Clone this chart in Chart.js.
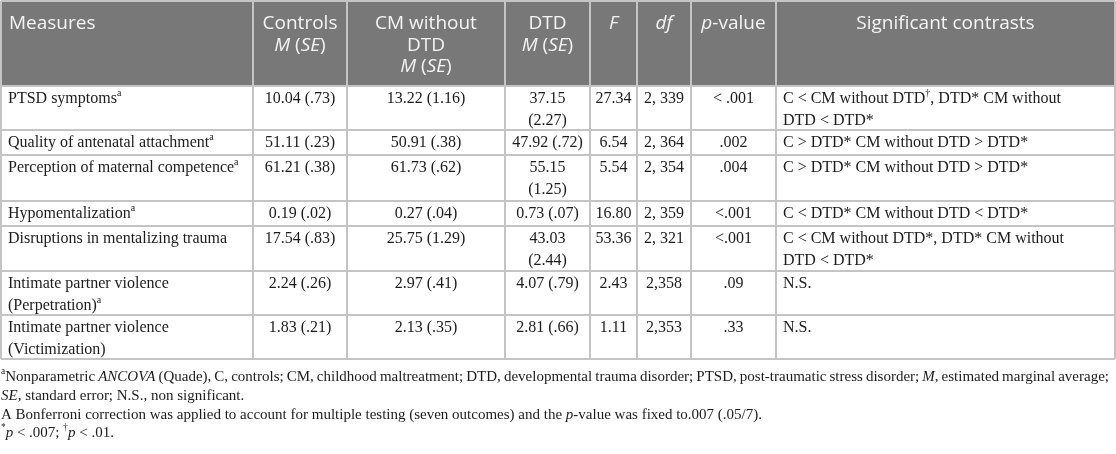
<!DOCTYPE html>
<html lang="en">

<head>
	<meta charset="UTF-8" />
	<meta name="viewport" content="width=device-width, initial-scale=1.0" />
	<title>Group comparisons table</title>
	<script src="https://cdn.jsdelivr.net/npm/chart.js@4.4.1/dist/chart.umd.min.js"></script>
	<style>
		html, body { margin: 0; padding: 0; background: #fff; }
		.container { position: relative; width: 1116px; height: 454px; }
	</style>
</head>

<body>
	<div class="container">
		<canvas id="myChart"></canvas>
	</div>

	<script>
		// markup: _text_ = italic, ^text^ = superscript, \n = line break
		const headers = ['Measures', 'Controls\n_M_ (_SE_)', 'CM without\nDTD\n_M_ (_SE_)', 'DTD\n_M_ (_SE_)', '_F_', '_df_', '_p_-value', 'Significant contrasts'];

		const measures = [
			'PTSD symptoms^a^',
			'Quality of antenatal attachment^a^',
			'Perception of maternal competence^a^',
			'Hypomentalization^a^',
			'Disruptions in mentalizing trauma',
			'Intimate partner violence\n(Perpetration)^a^',
			'Intimate partner violence\n(Victimization)'
		];
		const controls = ['10.04 (.73)', '51.11 (.23)', '61.21 (.38)', '0.19 (.02)', '17.54 (.83)', '2.24 (.26)', '1.83 (.21)'];
		const cmWithoutDtd = ['13.22 (1.16)', '50.91 (.38)', '61.73 (.62)', '0.27 (.04)', '25.75 (1.29)', '2.97 (.41)', '2.13 (.35)'];
		const dtd = ['37.15\n(2.27)', '47.92 (.72)', '55.15\n(1.25)', '0.73 (.07)', '43.03\n(2.44)', '4.07 (.79)', '2.81 (.66)'];
		const fValues = ['27.34', '6.54', '5.54', '16.80', '53.36', '2.43', '1.11'];
		const dfValues = ['2, 339', '2, 364', '2, 354', '2, 359', '2, 321', '2,358', '2,353'];
		const pValues = ['< .001', '.002', '.004', '<.001', '<.001', '.09', '.33'];
		const contrasts = [
			'C < CM without DTD^†^, DTD* CM without\nDTD < DTD*',
			'C > DTD* CM without DTD > DTD*',
			'C > DTD* CM without DTD > DTD*',
			'C < DTD* CM without DTD < DTD*',
			'C < CM without DTD*, DTD* CM without\nDTD < DTD*',
			'N.S.',
			'N.S.'
		];
		const notes = [
			'^a^Nonparametric _ANCOVA_ (Quade), C, controls; CM, childhood maltreatment; DTD, developmental trauma disorder; PTSD, post-traumatic stress disorder; _M_, estimated marginal average;',
			'_SE_, standard error; N.S., non significant.',
			'A Bonferroni correction was applied to account for multiple testing (seven outcomes) and the _p_-value was fixed to.007 (.05/7).',
			'^*^_p_ < .007; ^†^_p_ < .01.'
		];

		// layout (in canvas units, mapped through the chart scales)
		const W = 1116, H = 454;
		const colEdges = [1, 253, 347, 505, 590, 637, 691, 776, 1115];
		const colAlign = ['left', 'center', 'center', 'center', 'center', 'center', 'center', 'left'];
		const headerHeight = 86;
		const rowHeights = [44, 25, 46, 25, 45, 44, 44];
		const notesTop = 377, notesStep = 18.8;
		const justifyNotes = [true, false, false, false];

		const SERIF = '"Liberation Serif", "Times New Roman", serif';
		const SANS = '"Open Sans", "Noto Sans", sans-serif';

		function parse(text) {
			const segs = [];
			text.split(/(_[^_]+_|\^[^^]+\^)/).forEach(part => {
				if (!part) return;
				if (part[0] === '_' && part.length > 2) segs.push({ t: part.slice(1, -1), it: true });
				else if (part[0] === '^' && part.length > 2) segs.push({ t: part.slice(1, -1), sup: true });
				else segs.push({ t: part });
			});
			return segs;
		}

		function setFont(ctx, seg, size, family) {
			const s = seg.sup ? size * 0.62 : size;
			ctx.font = (seg.it ? 'italic ' : '') + s + 'px ' + family;
		}

		// draw one line of rich text, optionally justified to a width
		function drawLine(ctx, text, x, y, align, size, family, justifyWidth) {
			const tokens = [];
			parse(text).forEach(seg => {
				seg.t.split(/( )/).forEach(t => {
					if (t) tokens.push({ t, it: seg.it, sup: seg.sup });
				});
			});
			let width = 0;
			let spaces = 0;
			tokens.forEach(tok => {
				setFont(ctx, tok, size, family);
				tok.w = ctx.measureText(tok.t).width;
				width += tok.w;
				if (tok.t === ' ') spaces++;
			});
			let extra = 0;
			if (justifyWidth && spaces > 0) {
				extra = (justifyWidth - width) / spaces;
				width = justifyWidth;
			}
			let cx = x;
			if (align === 'center') cx = x - width / 2;
			else if (align === 'right') cx = x - width;
			ctx.textBaseline = 'middle';
			ctx.textAlign = 'left';
			tokens.forEach(tok => {
				setFont(ctx, tok, size, family);
				const dy = tok.sup ? -size * 0.36 : 0;
				ctx.fillText(tok.t, cx, y + dy);
				cx += tok.w + (tok.t === ' ' ? extra : 0);
			});
		}

		const tablePlugin = {
			id: 'tableCells',
			afterDraw(chart) {
				const ctx = chart.ctx;
				const xs = chart.scales.x;
				const ys = chart.scales.y;
				const px = v => xs.getPixelForValue(v);
				const py = v => ys.getPixelForValue(v);

				const columns = [measures, controls, cmWithoutDtd, dtd, fValues, dfValues, pValues, contrasts];
				const rowEdges = [1, headerHeight];
				rowHeights.forEach(h => rowEdges.push(rowEdges[rowEdges.length - 1] + h));
				const tableBottom = rowEdges[rowEdges.length - 1];

				ctx.save();
				// header background
				ctx.fillStyle = '#787878';
				ctx.fillRect(px(colEdges[0]), py(rowEdges[0]), px(colEdges[8]) - px(colEdges[0]), py(rowEdges[1]) - py(rowEdges[0]));

				// header text
				ctx.fillStyle = '#f4f4f4';
				headers.forEach((h, c) => {
					const align = c === 0 ? 'left' : 'center';
					const tx = align === 'left' ? px(colEdges[c] + 8) : px((colEdges[c] + colEdges[c + 1]) / 2);
					h.split('\n').forEach((ln, i) => {
						drawLine(ctx, ln, tx, py(rowEdges[0] + 23 + i * 21.5), align, 19, SANS);
					});
				});

				// body text
				ctx.fillStyle = '#1c1c1c';
				columns.forEach((col, c) => {
					col.forEach((val, r) => {
						const top = rowEdges[r + 1];
						const align = colAlign[c];
						const tx = align === 'left' ? px(colEdges[c] + 7) : px((colEdges[c] + colEdges[c + 1]) / 2);
						val.split('\n').forEach((ln, i) => {
							drawLine(ctx, ln, tx, py(top + 13 + i * 22), align, 16, SERIF);
						});
					});
				});

				// grid lines
				ctx.strokeStyle = '#c4c4c4';
				ctx.lineWidth = 2;
				ctx.beginPath();
				rowEdges.forEach(r => {
					ctx.moveTo(px(colEdges[0]), py(r));
					ctx.lineTo(px(colEdges[8]), py(r));
				});
				colEdges.forEach(c => {
					ctx.moveTo(px(c), py(rowEdges[0]));
					ctx.lineTo(px(c), py(tableBottom));
				});
				ctx.stroke();

				// footnotes
				ctx.fillStyle = '#1c1c1c';
				notes.forEach((n, i) => {
					drawLine(ctx, n, px(1), py(notesTop + i * notesStep), 'left', 15, SERIF,
						justifyNotes[i] ? px(1109) - px(1) : 0);
				});
				ctx.restore();
			}
		};

		window.addEventListener('load', setup);

		function setup() {
			const ctx = document.getElementById('myChart').getContext('2d');
			new Chart(ctx, {
				type: 'scatter',
				data: { datasets: [] },
				options: {
					responsive: true,
					maintainAspectRatio: false,
					animation: false,
					layout: { padding: 0 },
					plugins: { legend: { display: false }, tooltip: { enabled: false } },
					scales: {
						x: { type: 'linear', min: 0, max: W, display: false },
						y: { type: 'linear', min: 0, max: H, reverse: true, display: false }
					}
				},
				plugins: [tablePlugin]
			});
		}
	</script>
</body>

</html>
